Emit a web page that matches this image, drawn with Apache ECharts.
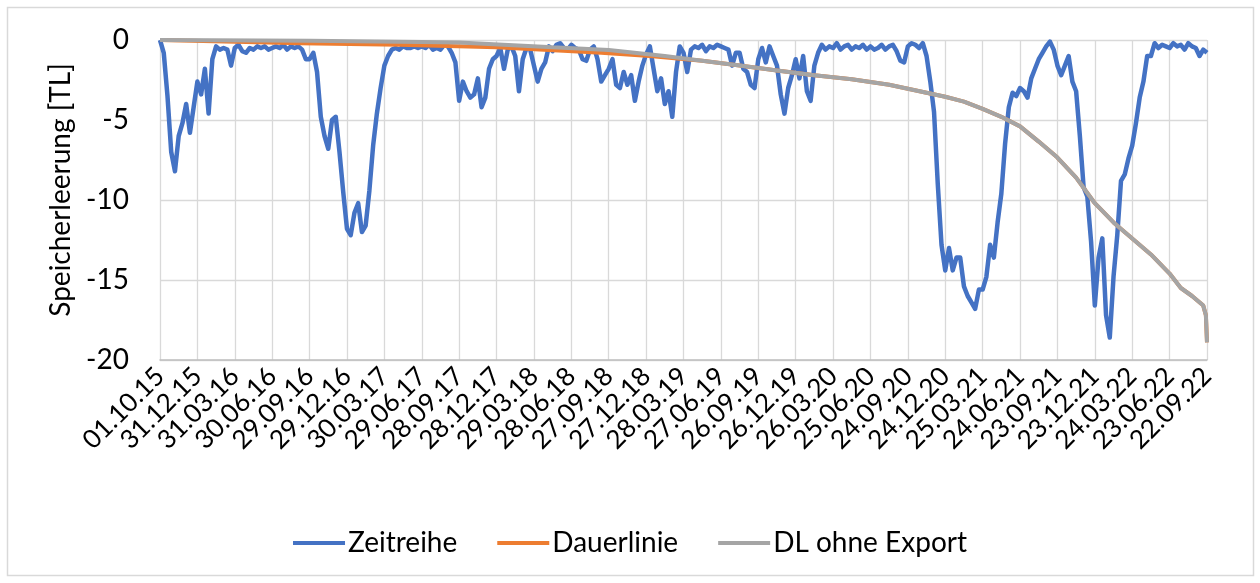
<!DOCTYPE html>
<html>
<head>
<meta charset="utf-8">
<script src="https://cdn.jsdelivr.net/npm/echarts@6/dist/echarts.min.js"></script>
<style>
  html, body { margin: 0; padding: 0; background: #fff; }
  #chart { width: 1260px; height: 583px; }
</style>
</head>
<body>
<div id="chart"></div>
<script>
// Achsenbeschriftung (alle 91 Tage)
const tickLabels = ["01.10.15", "31.12.15", "31.03.16", "30.06.16", "29.09.16", "29.12.16", "30.03.17",
  "29.06.17", "28.09.17", "28.12.17", "29.03.18", "28.06.18", "27.09.18", "27.12.18", "28.03.19",
  "27.06.19", "26.09.19", "26.12.19", "26.03.20", "25.06.20", "24.09.20", "24.12.20", "25.03.21",
  "24.06.21", "23.09.21", "23.12.21", "24.03.22", "23.06.22", "22.09.22"];

// Zeitreihe, 10 Werte je Beschriftungsintervall
const zeitreihe = [
  0, -0.8, -3.5, -7.0, -8.2, -6.0, -5.2, -4.0, -5.8, -4.2,
  -2.6, -3.4, -1.8, -4.6, -1.2, -0.4, -0.6, -0.5, -0.6, -1.6,
  -0.5, -0.3, -0.7, -0.8, -0.5, -0.6, -0.4, -0.5, -0.4, -0.6,
  -0.5, -0.4, -0.5, -0.3, -0.6, -0.4, -0.5, -0.4, -0.6, -1.2,
  -1.2, -0.8, -2.0, -4.8, -6.0, -6.8, -5.0, -4.8, -7.0, -9.5,
  -11.8, -12.2, -10.8, -10.2, -12.0, -11.6, -9.4, -6.6, -4.6, -3.0,
  -1.6, -1.0, -0.6, -0.5, -0.6, -0.4, -0.5, -0.5, -0.4, -0.5,
  -0.4, -0.5, -0.3, -0.6, -0.5, -0.6, -0.3, -0.4, -0.8, -1.4,
  -3.8, -2.6, -3.2, -3.6, -3.4, -2.4, -4.2, -3.6, -1.8, -1.2,
  -1.0, -0.5, -1.8, -0.6, -0.4, -1.0, -3.2, -1.2, -0.5, -0.6,
  -1.6, -2.6, -1.8, -1.4, -0.4, -0.7, -0.3, -0.2, -0.5, -0.6,
  -0.3, -0.5, -0.6, -1.2, -1.3, -0.6, -0.4, -1.2, -2.6, -2.2,
  -1.8, -1.2, -2.8, -3.0, -2.0, -2.8, -2.2, -3.8, -2.6, -1.6,
  -0.9, -0.4, -1.8, -3.2, -2.4, -4.0, -3.2, -4.8, -2.0, -0.4,
  -0.8, -2.0, -0.6, -0.4, -0.5, -0.3, -0.7, -0.4, -0.5, -0.3,
  -0.4, -0.5, -0.6, -1.6, -0.8, -0.8, -1.8, -2.0, -2.8, -3.0,
  -1.2, -0.5, -1.4, -0.4, -1.0, -1.6, -3.4, -4.6, -3.0, -2.2,
  -1.2, -2.4, -1.0, -3.2, -3.8, -1.6, -0.8, -0.3, -0.6, -0.4,
  -0.5, -0.2, -0.6, -0.4, -0.3, -0.6, -0.4, -0.5, -0.3, -0.6,
  -0.4, -0.6, -0.5, -0.3, -0.6, -0.4, -0.3, -0.7, -1.3, -1.4,
  -0.4, -0.2, -0.3, -0.5, -0.2, -1.0, -2.6, -4.5, -9.0, -12.8,
  -14.4, -13.0, -14.4, -13.6, -13.6, -15.4, -16.0, -16.4, -16.8, -15.6,
  -15.6, -14.8, -12.8, -13.6, -11.4, -9.6, -6.5, -4.2, -3.3, -3.5,
  -3.0, -3.2, -3.6, -2.4, -1.8, -1.2, -0.8, -0.4, -0.1, -0.6,
  -1.6, -2.2, -1.6, -1.0, -2.6, -3.2, -6.0, -9.2, -9.8, -12.6,
  -16.6, -13.6, -12.4, -17.2, -18.6, -14.8, -12.2, -8.8, -8.4, -7.4,
  -6.6, -5.2, -3.6, -2.6, -1.0, -1.0, -0.2, -0.5, -0.3, -0.4,
  -0.5, -0.2, -0.4, -0.3, -0.6, -0.2, -0.4, -0.5, -1.0, -0.6,
  -0.8
];

// Dauerlinie (Lage in Beschriftungsintervallen, Wert)
const dauerTage = [0, 3.75, 6.4, 9, 11.8, 13.1, 14.5, 15.5, 16.5, 17.5, 18.5, 19.5, 20.5, 21, 21.5, 22,
  22.5, 23, 23.5, 24, 24.5, 25, 25.5, 26, 26.5, 27, 27.3, 27.6, 27.9, 27.97, 28];
const dauerWerte = [0, -0.2, -0.3, -0.45, -0.8, -1.0, -1.3, -1.6, -1.9, -2.2, -2.45, -2.8, -3.3, -3.55, -3.85, -4.3,
  -4.8, -5.4, -6.35, -7.35, -8.6, -10.2, -11.4, -12.4, -13.4, -14.6, -15.5, -16.0, -16.6, -17.2, -18.9];

// DL ohne Export
const dlTage = [0, 4, 7, 8, 10.5, 12, 13.5, 14.5, 15.5, 16.5, 17.5, 18.5, 19.5, 20.5, 21, 21.5, 22,
  22.5, 23, 23.5, 24, 24.5, 25, 25.5, 26, 26.5, 27, 27.3, 27.6, 27.9, 27.97, 28];
const dlWerte = [0, -0.05, -0.12, -0.15, -0.45, -0.62, -1.0, -1.3, -1.6, -1.9, -2.2, -2.45, -2.8, -3.3, -3.55, -3.85, -4.3,
  -4.8, -5.4, -6.35, -7.35, -8.6, -10.2, -11.4, -12.4, -13.4, -14.6, -15.5, -16.0, -16.6, -17.2, -18.9];

const FONT = "Lato";

let myChart = echarts.init(document.getElementById("chart"));

let option = {
  animation: false,
  backgroundColor: "#fff",
  textStyle: { fontFamily: FONT, color: "#000" },
  graphic: [
    {
      type: "rect",
      shape: { x: 7.5, y: 7.5, width: 1246, height: 568 },
      style: { fill: "none", stroke: "#d9d9d9", lineWidth: 1.5 },
      silent: true,
    },
  ],
  grid: {
    left: 160,
    right: 53,
    top: 40,
    bottom: 223,
  },
  legend: {
    bottom: 21,
    left: "center",
    icon: "rect",
    itemWidth: 52,
    itemHeight: 4,
    itemGap: 40,
    textStyle: { fontFamily: FONT, fontSize: 28, color: "#000", padding: [0, 0, 0, -2] },
    data: ["Zeitreihe", "Dauerlinie", "DL ohne Export"],
  },
  xAxis: {
    type: "value",
    min: 0,
    max: tickLabels.length - 1,
    interval: 1,
    axisLine: { show: true, onZero: false, lineStyle: { color: "#bfbfbf", width: 1.5 } },
    axisTick: { show: false },
    splitLine: { show: true, lineStyle: { color: "#d9d9d9", width: 1.3 } },
    axisLabel: {
      rotate: 45,
      margin: 12,
      fontFamily: FONT,
      fontSize: 26,
      color: "#000",
      showMaxLabel: true,
      formatter: function (v) {
        return Number.isInteger(v) ? tickLabels[v] : "";
      },
    },
  },
  yAxis: {
    type: "value",
    min: -20,
    max: 0,
    interval: 5,
    name: "Speicherleerung [TL]",
    nameLocation: "middle",
    nameGap: 82,
    nameTextStyle: { fontFamily: FONT, fontSize: 28, color: "#000", padding: [0, 0, 0, 20] },
    axisLine: { show: false },
    axisTick: { show: false },
    splitLine: { show: true, lineStyle: { color: "#d9d9d9", width: 1.3 } },
    axisLabel: { margin: 31, fontFamily: FONT, fontSize: 28, color: "#000" },
  },
  series: [
    {
      name: "Zeitreihe",
      type: "line",
      symbol: "none",
      color: "#4472C4",
      lineStyle: { width: 4.5, color: "#4472C4", join: "round" },
      data: zeitreihe.map((v, i) => [i / 10, v]),
    },
    {
      name: "Dauerlinie",
      type: "line",
      symbol: "none",
      color: "#ED7D31",
      lineStyle: { width: 4, color: "#ED7D31" },
      data: dauerTage.map((t, i) => [t, dauerWerte[i]]),
    },
    {
      name: "DL ohne Export",
      type: "line",
      symbol: "none",
      color: "#A5A5A5",
      lineStyle: { width: 4, color: "#A5A5A5" },
      data: dlTage.map((t, i) => [t, dlWerte[i]]),
    },
  ],
};

myChart.setOption(option);
</script>
</body>
</html>
